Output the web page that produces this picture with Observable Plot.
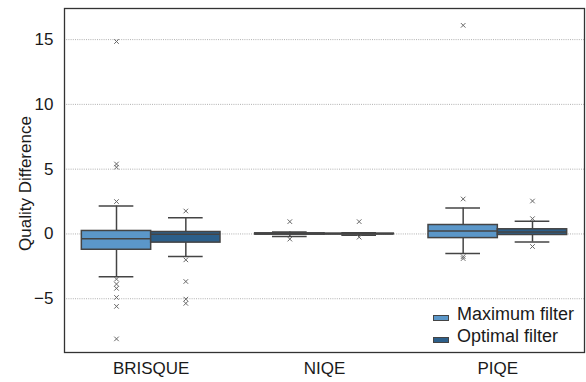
<!DOCTYPE html>
<html><head><meta charset="utf-8">
<script src="https://cdn.jsdelivr.net/npm/d3@7"></script>
<script src="https://cdn.jsdelivr.net/npm/@observablehq/plot@0.6"></script>
<style>
body{margin:0;background:#fff;}
#wrap{position:relative;width:586px;height:382px;font-family:"Liberation Sans",Arial,sans-serif;}
#legend{position:absolute;left:433px;top:303px;font-size:18px;color:#1a1a1a;}
.row{display:flex;align-items:center;height:22px;}
.sw{width:16px;height:6px;margin-right:8px;margin-top:7px;border:1px solid #444;box-sizing:border-box;}
</style></head><body><div id="wrap"><div id="legend"></div></div>
<script>
const categories = ["BRISQUE", "NIQE", "PIQE"];
const filters = ["Maximum filter", "Optimal filter"];
const colors = ["#5b97c9", "#2c5f8a"];
const yTicks = [-5, 0, 5, 10, 15];

// Maximum filter box statistics
const maxQ1  = [-1.22, -0.05, -0.32];
const maxMed = [-0.38,  0.00,  0.23];
const maxQ3  = [ 0.23,  0.05,  0.69];
const maxLo  = [-3.30, -0.20, -1.50];
const maxHi  = [ 2.15,  0.15,  2.00];
const maxOut = [
  [14.85, 5.4, 5.15, 2.5, -3.49, -3.87, -4.2, -4.9, -5.59, -8.1],
  [0.95, -0.4],
  [16.1, 2.7, -1.75, -1.9]
];
// Optimal filter box statistics
const optQ1  = [-0.67, -0.03, -0.08];
const optMed = [-0.03,  0.00,  0.15];
const optQ3  = [ 0.15,  0.03,  0.36];
const optLo  = [-1.75, -0.10, -0.62];
const optHi  = [ 1.25,  0.10,  0.98];
const optOut = [
  [1.77, -2.0, -3.67, -5.03, -5.36],
  [0.95, -0.25],
  [2.54, 1.18, -0.97]
];

const stats = [
  {q1: maxQ1, med: maxMed, q3: maxQ3, lo: maxLo, hi: maxHi, out: maxOut},
  {q1: optQ1, med: optMed, q3: optQ3, lo: optLo, hi: optHi, out: optOut}
];
const rows = [], outRows = [];
categories.forEach((c, i) => {
  filters.forEach((f, k) => {
    const s = stats[k];
    const xc = i + (k === 0 ? -0.2 : 0.2);
    rows.push({cat: c, filter: f, xc, xl: xc - 0.2, xr: xc + 0.2, cl: xc - 0.1, cr: xc + 0.1,
      q1: s.q1[i], med: s.med[i], q3: s.q3[i], lo: s.lo[i], hi: s.hi[i]});
    s.out[i].forEach(v => outRows.push({filter: f, xc, v}));
  });
});

const line = "#444";
const chart = Plot.plot({
  width: 586, height: 382,
  marginLeft: 64, marginRight: 2, marginTop: 8, marginBottom: 30,
  style: {fontFamily: "'Liberation Sans', Arial, sans-serif", background: "#fff"},
  x: {domain: [-0.5, 2.5], axis: null},
  y: {domain: [-9.15, 17.4], axis: null},
  color: {domain: filters, range: colors},
  marks: [
    Plot.gridY(yTicks, {stroke: "#a8a8a8", strokeOpacity: 1, strokeDasharray: "1,1.2", strokeWidth: 0.9}),
    Plot.ruleX(rows, {x: "xc", y1: "lo", y2: "hi", stroke: line, strokeWidth: 1.5}),
    Plot.ruleY(rows, {y: "lo", x1: "cl", x2: "cr", stroke: line, strokeWidth: 1.5}),
    Plot.ruleY(rows, {y: "hi", x1: "cl", x2: "cr", stroke: line, strokeWidth: 1.5}),
    Plot.rect(rows, {x1: "xl", x2: "xr", y1: "q1", y2: "q3", fill: "filter", stroke: line, strokeWidth: 1.5}),
    Plot.ruleY(rows, {y: "med", x1: "xl", x2: "xr", stroke: line, strokeWidth: 1.5}),
    Plot.dot(outRows, {x: "xc", y: "v", symbol: "times", r: 2.2, stroke: "#666", strokeWidth: 1}),
    Plot.axisY(yTicks, {tickSize: 0, tickPadding: 11, fontSize: 17, tickFormat: d3.format("d"), label: null, fill: "#1a1a1a"}),
    Plot.axisX([0, 1, 2], {tickSize: 0, tickPadding: 9, fontSize: 17, tickFormat: i => categories[i], label: null, fill: "#1a1a1a"}),
    Plot.text(["Quality Difference"], {frameAnchor: "left", rotate: -90, dx: -39, dy: 3, fontSize: 17, textAnchor: "middle", lineAnchor: "middle", fill: "#1a1a1a"}),
    Plot.frame({stroke: "#333", strokeWidth: 1.3})
  ]
});
const wrap = document.getElementById("wrap");
wrap.insertBefore(chart, wrap.firstChild);

const legend = document.getElementById("legend");
filters.forEach((f, k) => {
  const r = document.createElement("div"); r.className = "row";
  const sw = document.createElement("div"); sw.className = "sw"; sw.style.background = colors[k];
  const t = document.createElement("span"); t.textContent = f;
  r.appendChild(sw); r.appendChild(t); legend.appendChild(r);
});
</script></body></html>
